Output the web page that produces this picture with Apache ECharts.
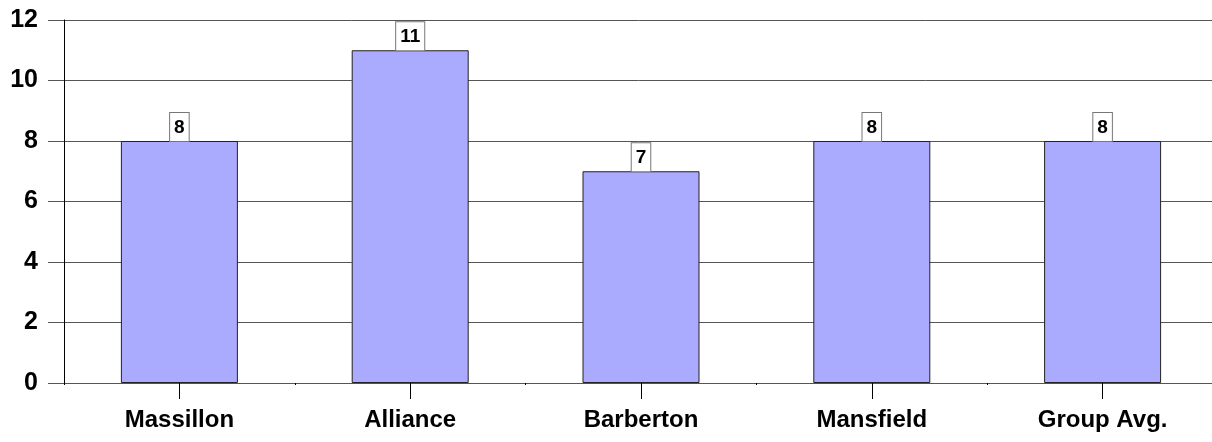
<!DOCTYPE html>
<html>
<head>
<meta charset="utf-8">
<script src="https://cdn.jsdelivr.net/npm/echarts@6/dist/echarts.min.js"></script>
<style>
  html, body { margin: 0; padding: 0; background: #fff; }
  #chart { width: 1212px; height: 442px; }
</style>
</head>
<body>
<div id="chart"></div>
<script>
// Categories and values shown in the bar chart
const categories = ['Massillon', 'Alliance', 'Barberton', 'Mansfield', 'Group Avg.'];
const values = [8, 11, 7, 8, 8];
const yTicks = { min: 0, max: 12, interval: 2 };

const chart = echarts.init(document.getElementById('chart'), null, { renderer: 'canvas' });

const font = 'Liberation Sans, Arial, sans-serif';
const gridColor = '#555';

chart.setOption({
  animation: false,
  backgroundColor: '#fff',
  grid: { left: 64, width: 1154, top: 20, bottom: 59, containLabel: false, outerBoundsMode: 'none' },
  xAxis: [
    {
      type: 'category',
      data: categories,
      axisLine: { show: true, lineStyle: { color: gridColor, width: 1 } },
      axisTick: { show: true, alignWithLabel: true, length: 16, lineStyle: { color: '#000', width: 1 } },
      axisLabel: {
        margin: 25,
        color: '#000',
        fontFamily: font,
        fontWeight: 'bold',
        fontSize: 24
      },
      splitLine: { show: false }
    },
    {
      // boundary tick marks between categories
      type: 'category',
      data: categories,
      position: 'bottom',
      axisLine: { show: false },
      axisTick: { show: true, alignWithLabel: false, length: 2, lineStyle: { color: '#000', width: 1 } },
      axisLabel: { show: false },
      splitLine: { show: false }
    }
  ],
  yAxis: {
    type: 'value',
    min: yTicks.min,
    max: yTicks.max,
    interval: yTicks.interval,
    axisLine: { show: true, lineStyle: { color: '#000', width: 1 } },
    axisTick: { show: true, length: 16, lineStyle: { color: gridColor, width: 1 } },
    axisLabel: {
      margin: 26,
      color: '#000',
      fontFamily: font,
      fontWeight: 'bold',
      fontSize: 25
    },
    splitLine: { show: true, lineStyle: { color: gridColor, width: 1 } }
  },
  series: [{
    type: 'bar',
    data: values,
    barWidth: 117,
    itemStyle: { color: '#aaaaff', borderColor: '#222', borderWidth: 1 },
    label: {
      show: true,
      position: 'top',
      distance: 0,
      color: '#000',
      fontFamily: font,
      fontWeight: 'bold',
      fontSize: 19,
      backgroundColor: '#fff',
      borderColor: '#777',
      borderWidth: 1,
      padding: [5, 4, 4, 4]
    }
  }]
});
</script>
</body>
</html>
